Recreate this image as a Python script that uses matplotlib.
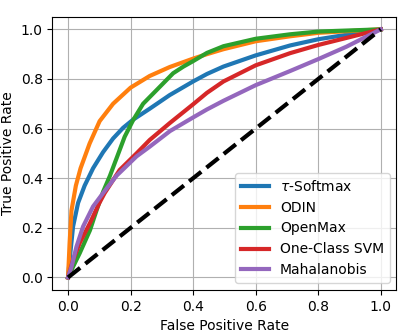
import matplotlib
matplotlib.use("Agg")
import matplotlib.pyplot as plt

labels = [r"$\tau$-Softmax", "ODIN", "OpenMax", "One-Class SVM", "Mahalanobis"]

fpr_softmax = [0.0, 0.005, 0.016, 0.032, 0.053, 0.08, 0.112, 0.144, 0.176, 0.208, 0.261, 0.325, 0.40, 0.444, 0.497, 0.6, 0.71, 0.8, 0.89, 1.0]
tpr_softmax = [0.0, 0.07, 0.205, 0.30, 0.37, 0.44, 0.505, 0.56, 0.603, 0.636, 0.68, 0.735, 0.79, 0.82, 0.85, 0.895, 0.935, 0.96, 0.978, 1.0]

fpr_odin = [0.0, 0.005, 0.011, 0.025, 0.04, 0.069, 0.101, 0.144, 0.2, 0.261, 0.325, 0.40, 0.444, 0.497, 0.6, 0.71, 0.8, 1.0]
tpr_odin = [0.0, 0.138, 0.27, 0.37, 0.44, 0.54, 0.63, 0.70, 0.765, 0.812, 0.848, 0.882, 0.90, 0.92, 0.952, 0.972, 0.986, 1.0]

fpr_openmax = [0.0, 0.016, 0.037, 0.07, 0.091, 0.112, 0.134, 0.155, 0.181, 0.208, 0.24, 0.283, 0.336, 0.369, 0.40, 0.444, 0.497, 0.6, 0.71, 0.8, 1.0]
tpr_openmax = [0.0, 0.043, 0.097, 0.19, 0.27, 0.345, 0.41, 0.48, 0.567, 0.634, 0.70, 0.755, 0.823, 0.85, 0.872, 0.905, 0.932, 0.962, 0.98, 0.991, 1.0]

fpr_svm = [0.0, 0.016, 0.037, 0.07, 0.10, 0.117, 0.165, 0.219, 0.261, 0.326, 0.40, 0.444, 0.497, 0.6, 0.71, 0.8, 1.0]
tpr_svm = [0.0, 0.07, 0.138, 0.219, 0.30, 0.34, 0.433, 0.50, 0.554, 0.623, 0.698, 0.744, 0.79, 0.855, 0.904, 0.937, 1.0]

fpr_maha = [0.0, 0.011, 0.027, 0.048, 0.08, 0.112, 0.155, 0.219, 0.261, 0.326, 0.40, 0.444, 0.497, 0.6, 0.71, 0.8, 0.89, 1.0]
tpr_maha = [0.0, 0.043, 0.124, 0.205, 0.286, 0.34, 0.41, 0.488, 0.527, 0.59, 0.645, 0.677, 0.712, 0.775, 0.832, 0.88, 0.93, 1.0]

diag = [0.0, 1.0]

fig = plt.figure(figsize=(4.16, 3.32), dpi=100)
ax = fig.add_axes([0.126, 0.127, 0.827, 0.822])

curves = [(fpr_softmax, tpr_softmax), (fpr_odin, tpr_odin), (fpr_openmax, tpr_openmax),
          (fpr_svm, tpr_svm), (fpr_maha, tpr_maha)]
colors = ["#1f77b4", "#ff7f0e", "#2ca02c", "#d62728", "#9467bd"]
for (x, y), lab, c in zip(curves, labels, colors):
    ax.plot(x, y, color=c, lw=3, label=lab, solid_joinstyle="round")
ax.plot(diag, diag, color="black", lw=3, linestyle="--")

ax.set_xticks([0.0, 0.2, 0.4, 0.6, 0.8, 1.0])
ax.set_yticks([0.0, 0.2, 0.4, 0.6, 0.8, 1.0])
ax.grid(True, color="#b0b0b0", lw=0.8)
ax.set_xlabel("False Positive Rate")
ax.set_ylabel("True Positive Rate")
ax.legend(loc="lower right")

fig.savefig("out.png", dpi=100)
